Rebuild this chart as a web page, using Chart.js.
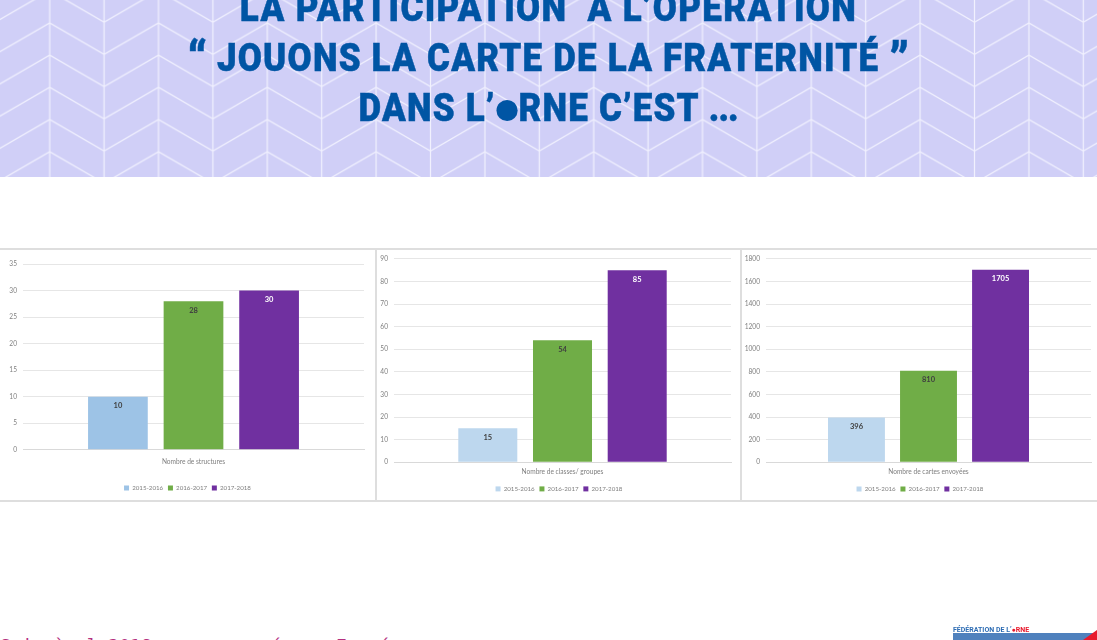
<!DOCTYPE html>
<html lang="fr"><head><meta charset="utf-8">
<script src="https://cdn.jsdelivr.net/npm/chart.js@4"></script>
<style>
html,body{margin:0;padding:0;background:#fff;width:1097px;height:640px;overflow:hidden;font-family:"Lato",sans-serif}
#banner{position:absolute;left:0;top:0;width:1097px;height:177px;overflow:hidden;background:#d0cff7}
#banner svg{position:absolute;left:0;top:0}
.t{position:absolute;left:0;width:1097px;text-align:center;white-space:nowrap}
.t span.i{display:inline-block;transform:scaleX(.92);color:#0055a4;font:900 38px/44px Roboto,sans-serif;-webkit-text-stroke:.5px #0055a4}
.q{font-size:50px;line-height:0;vertical-align:-6px;letter-spacing:0}
.dot{display:inline-block;width:23px;height:21px;border-radius:50%;background:#0055a4;margin:0 1px}
.panel{position:absolute;top:249px}
.panel canvas{filter:blur(.45px)}
.rule{position:absolute;background:#dedede}
#foot{position:absolute;left:0;top:635px;color:#b5307f;font:18px/21px "DejaVu Sans Mono",monospace;white-space:pre}
#logoT{position:absolute;left:953px;top:626px;color:#2e6db4;font:700 7px Roboto,sans-serif;white-space:nowrap;filter:blur(.3px)}
#logoB{position:absolute;left:953px;top:633px;width:144px;height:7px;background:#4f81bd}
#logoR{position:absolute;left:1083px;top:630px;width:14px;height:10px;background:#e8192c;clip-path:polygon(100% 0,100% 100%,0 100%)}
</style></head><body>
<div id="banner">
<svg width="1097" height="177"><defs>
<pattern id="ch" x="49.7" y="-9.3" width="108.8" height="32.2" patternUnits="userSpaceOnUse">
<path d="M0 0 L54.4 31.4 L108.8 0 M0 -32.2 L54.4 -0.8 L108.8 -32.2 M0 32.2 L54.4 63.6 L108.8 32.2" fill="none" stroke="#f1f1fe" stroke-width="1.2"/>
<path d="M0 0V32.2M54.4 0V32.2M108.8 0V32.2" stroke="#f1f1fe" stroke-width="1.2"/>
</pattern></defs><rect width="1097" height="177" fill="url(#ch)"/></svg>
<div class="t" style="top:-14px"><span class="i" style="letter-spacing:1.45px">LA PARTICIPATION&nbsp; À L’OPÉRATION</span></div>
<div class="t" style="top:36px"><span class="i" style="letter-spacing:1.3px"><span class="q">“</span> JOUONS LA CARTE DE LA FRATERNITÉ <span class="q">”</span></span></div>
<div class="t" style="top:86px"><span class="i" style="letter-spacing:1.3px">DANS L’<span class="dot"></span>RNE C’EST <span style="letter-spacing:-1px">...</span></span></div>
</div>

<div class="rule" style="left:0;top:248px;width:1097px;height:2px"></div>
<div class="rule" style="left:0;top:500px;width:1097px;height:2px"></div>
<div class="rule" style="left:375px;top:249px;width:2px;height:252px"></div>
<div class="rule" style="left:740px;top:249px;width:2px;height:252px"></div>

<div class="panel" style="left:0;width:376px;height:252px"><canvas id="c1"></canvas></div>
<div class="panel" style="left:377px;width:363px;height:253px"><canvas id="c2"></canvas></div>
<div class="panel" style="left:742px;width:355px;height:253px"><canvas id="c3"></canvas></div>

<div id="foot">Soin à  l 2018           é     E   é</div>
<div id="logoT">FÉDÉRATION DE L’<span style="color:#e8192c">●RNE</span></div>
<div id="logoB"></div><div id="logoR"></div>

<script>
const seasons = ["2015-2016","2016-2017","2017-2018"];
const categories1 = ["Nombre de structures"];
const categories2 = ["Nombre de classes/ groupes"];
const categories3 = ["Nombre de cartes envoyées"];
const structures = [10,28,30];
const classes = [15,54,85];
const cartes = [396,810,1705];
const colors1 = ["#9dc3e6","#70ad47","#7030a0"];
const colors2 = ["#bdd7ee","#70ad47","#7030a0"];
const labelColors = ["#404040","#404040","#ffffff"];

const valueLabels = {
  id:"valueLabels",
  afterDatasetsDraw(chart){
    const ctx = chart.ctx;
    ctx.save();
    ctx.font = "700 7.5px Lato";
    ctx.textAlign = "center";
    ctx.textBaseline = "middle";
    chart.data.datasets.forEach((ds,i)=>{
      const el = chart.getDatasetMeta(i).data[0];
      ctx.fillStyle = labelColors[i];
      ctx.fillText(String(ds.data[0]), el.x, el.y + 9);
    });
    ctx.restore();
  }
};

function make(id, cats, vals, cols, max, step, L, R, T, B, xPad, legPad, legShift){
  new Chart(document.getElementById(id),{
    type:"bar",
    data:{labels:cats,datasets:seasons.map((s,i)=>({
      label:s,data:[vals[i]],backgroundColor:cols[i],borderColor:cols[i],borderWidth:0,
      barPercentage:.79,categoryPercentage:.665}))},
    plugins:[valueLabels,{id:"legendShift",afterLayout(c){c.legend.left+=legShift;c.legend.right+=legShift}}],
    options:{
      responsive:true,maintainAspectRatio:false,animation:false,
      layout:{padding:{left:0,right:R,top:T,bottom:0}},
      plugins:{
        tooltip:{enabled:false},
        legend:{position:"bottom",labels:{boxWidth:5,boxHeight:5,padding:legPad,color:"#7f7f7f",font:{size:6.2,family:"Lato"},
          generateLabels(c){return c.data.datasets.map((d,i)=>({text:d.label,fillStyle:d.backgroundColor,strokeStyle:d.backgroundColor,lineWidth:0,datasetIndex:i,fontColor:"#7f7f7f"}))}}}
      },
      scales:{
        x:{grid:{display:false,drawTicks:false},border:{color:"#d9d9d9"},
           ticks:{color:"#7f7f7f",padding:xPad,font:{size:6.6,family:"Lato"},maxRotation:0},
           afterFit(s){s.height=B}},
        y:{min:0,max:max,grid:{color:"#e6e6e6",drawTicks:false},border:{display:false},
           ticks:{stepSize:step,color:"#7f7f7f",padding:6,font:{size:6.6,family:"Lato"},callback:v=>String(v)},
           afterFit(s){s.width=L}}
      }
    }
  });
}
make("c1",categories1,structures,colors1,35,5,23,12,15,30.3,8,4.8,5.5);
make("c2",categories2,classes,colors2,90,10,17,9,7,18.8,6,4.8,5);
make("c3",categories3,cartes,colors2,1800,200,24,6,7,18.8,6,4.8,3.5);
</script>
</body></html>
